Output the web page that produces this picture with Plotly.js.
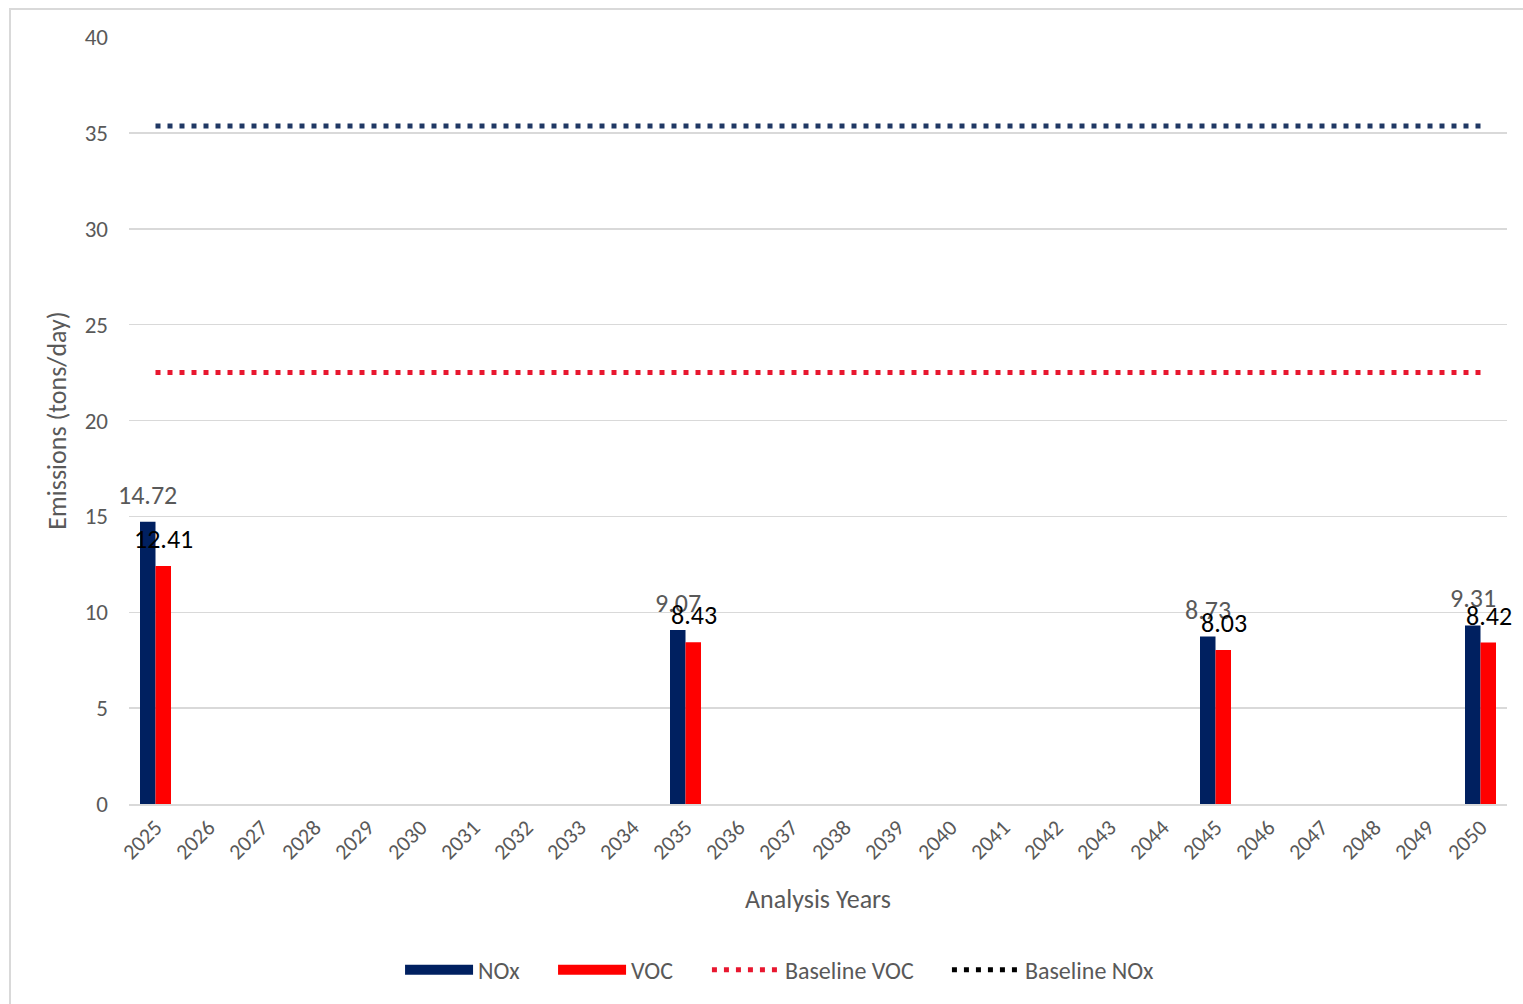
<!DOCTYPE html>
<html>
<head>
<meta charset="utf-8">
<script src="https://cdn.plot.ly/plotly-3.0.1.min.js"></script>
<style>
  html, body { margin: 0; padding: 0; background: #fff; }
  #wrap { position: relative; width: 1523px; height: 1004px; overflow: hidden; }
  #frame { position: absolute; left: 9px; top: 8px; width: 1600px; height: 1100px; border: 2px solid #d9d9d9; box-sizing: border-box; pointer-events: none; }
  #chart { position: absolute; left: 0; top: 0; width: 1523px; height: 1004px; }
</style>
</head>
<body>
<div id="wrap"><div id="chart"></div><div id="frame"></div></div>
<script>
const years = ['2025','2026','2027','2028','2029','2030','2031','2032','2033','2034','2035','2036','2037','2038','2039','2040','2041','2042','2043','2044','2045','2046','2047','2048','2049','2050'];
const noxValues = [14.72,null,null,null,null,null,null,null,null,null,9.07,null,null,null,null,null,null,null,null,null,8.73,null,null,null,null,9.31];
const vocValues = [12.41,null,null,null,null,null,null,null,null,null,8.43,null,null,null,null,null,null,null,null,null,8.03,null,null,null,null,8.42];
const baselineYears = ['2025','2050'];
const baselineVOC = [22.5, 22.5];
const baselineNOx = [35.36, 35.36];
const yTicks = [0,5,10,15,20,25,30,35,40];

const FONT = 'Carlito, Calibri, Lato, "Open Sans", sans-serif';
const GRAY = '#595959';
const NAVY = '#002060', RED = '#ff0000';

const traces = [
  { type:'bar', name:'NOx', showlegend:false, x:years, y:noxValues, marker:{color:NAVY}, hoverinfo:'x+y' },
  { type:'bar', name:'VOC', showlegend:false, x:years, y:vocValues, marker:{color:RED}, hoverinfo:'x+y' },
  { type:'scatter', mode:'lines', name:'Baseline VOC', showlegend:false, x:baselineYears, y:baselineVOC,
    line:{color:'#e8172f', width:5, dash:'5px,7px'} },
  { type:'scatter', mode:'lines', name:'Baseline NOx', showlegend:false, x:baselineYears, y:baselineNOx,
    line:{color:'#203864', width:5, dash:'5px,7px'} },
  // legend entries
  { type:'scatter', mode:'lines', name:'NOx', legend:'legend', x:[years[0]], y:[null],
    line:{color:NAVY, width:14}, hoverinfo:'skip' },
  { type:'scatter', mode:'lines', name:'VOC', legend:'legend', x:[years[0]], y:[null],
    line:{color:RED, width:14}, hoverinfo:'skip' },
  { type:'scatter', mode:'lines', name:'Baseline VOC', legend:'legend2', x:[years[0]], y:[null],
    line:{color:'#e8172f', width:5, dash:'5px,7px'}, hoverinfo:'skip' },
  { type:'scatter', mode:'lines', name:'Baseline NOx', legend:'legend2', x:[years[0]], y:[null],
    line:{color:'#000000', width:5, dash:'5px,7px'}, hoverinfo:'skip' }
];

const annotations = [];
years.forEach((yr, i) => {
  if (noxValues[i] != null) {
    annotations.push({ xref:'x', yref:'y', x: i, y: noxValues[i], text: noxValues[i].toFixed(2), showarrow:false,
      xanchor:'center', yanchor:'bottom', xshift:-8, yshift:9,
      font:{family:FONT, size:26, color:GRAY} });
  }
  if (vocValues[i] != null) {
    annotations.push({ xref:'x', yref:'y', x: i, y: vocValues[i], text: vocValues[i].toFixed(2), showarrow:false,
      xanchor:'center', yanchor:'bottom', xshift:8, yshift:9,
      font:{family:FONT, size:26, color:'#000000'} });
  }
});

const legendCommon = {orientation:'h', xanchor:'left', y:-0.215, yanchor:'middle',
  font:{family:FONT, size:24, color:GRAY}, itemwidth:68, entrywidthmode:'pixels', bgcolor:'rgba(0,0,0,0)'};

const layout = {
  width:1523, height:1004,
  margin:{l:129, r:16, t:37, b:199},
  paper_bgcolor:'#ffffff', plot_bgcolor:'#ffffff',
  font:{family:FONT, color:GRAY, size:18},
  barmode:'group', bargap:0.415, bargroupgap:0,
  showlegend:true,
  legend: Object.assign({}, legendCommon, {x:0.1967, entrywidth:70}),
  legend2: Object.assign({}, legendCommon, {x:0.4194, entrywidth:157}),
  xaxis:{ type:'category', categoryorder:'array', categoryarray:years, range:[-0.5, 25.5], autorange:false,
    tickangle:-45, tickfont:{family:FONT, size:22, color:GRAY},
    showgrid:false, showline:true, linecolor:'#d9d9d9', linewidth:2, ticks:'',
    title:{text:'Analysis Years', font:{family:FONT, size:26, color:GRAY}, standoff:26} },
  yaxis:{ range:[0,40], autorange:false, tickvals:yTicks, ticktext:yTicks.map(String),
    tickfont:{family:FONT, size:23, color:GRAY}, gridcolor:'#d9d9d9', gridwidth:1.5,
    zeroline:false, showline:false, ticks:'', ticklen:0, ticklabelstandoff:20,
    title:{text:'Emissions (tons/day)', font:{family:FONT, size:26, color:GRAY}, standoff:10} },
  annotations: annotations
};

Plotly.newPlot('chart', traces, layout, {displayModeBar:false, staticPlot:true});
</script>
</body>
</html>
